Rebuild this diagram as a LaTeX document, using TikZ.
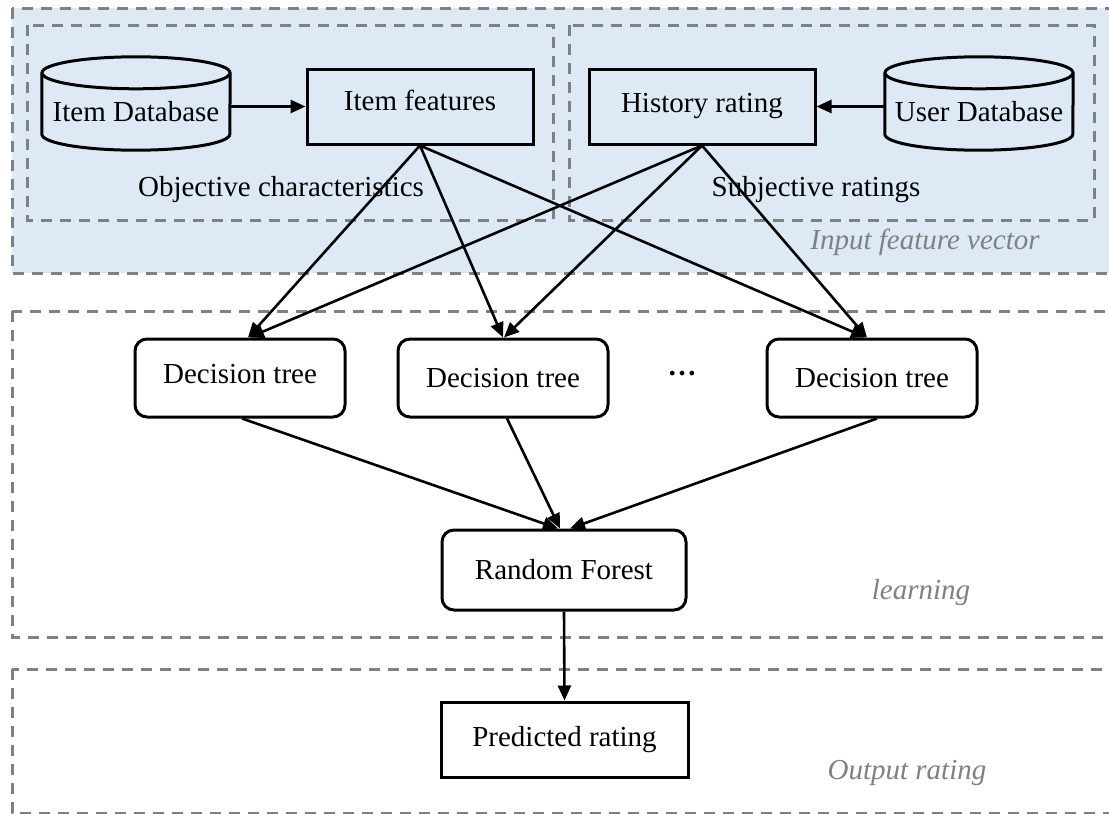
\documentclass[tikz,border=0pt]{standalone}
\usepackage{fontspec}
\setmainfont{Liberation Serif}
\usetikzlibrary{arrows.meta,calc}
\definecolor{inblue}{RGB}{221,234,246}
\definecolor{grp}{RGB}{128,128,128}
\begin{document}
\begin{tikzpicture}[x=1pt,y=-1pt,
  txt/.style={font=\fontsize{29}{34}\selectfont},
  box/.style={txt, draw, line width=3pt, minimum width=226pt, minimum height=75pt, inner sep=0pt},
  rbox/.style={box, rounded corners=12pt, minimum width=210pt, minimum height=78pt},
  db/.style={txt, minimum width=188pt, minimum height=77pt, inner sep=0pt},
  dbline/.style={line width=3pt},
  conn/.style={line width=2.6pt, -{Triangle[length=15pt,width=13pt]}},
  grpbox/.style={draw=grp, line width=3pt, dash pattern=on 11pt off 8pt},
  glabel/.style={txt, text=grp, font=\fontsize{29}{34}\selectfont\itshape}]
\useasboundingbox (0,0) rectangle (1109,814);

% group boxes
\path[grpbox, fill=inblue] (12,8) rectangle (1116,273);
\path[grpbox] (27,25) rectangle (553,220);
\path[grpbox] (569,25) rectangle (1094,220);
\path[grpbox] (12,311) rectangle (1116,637);
\path[grpbox] (12,669) rectangle (1116,813);

% group labels
\node[txt] (objl) at (281,190) {Objective characteristics};
\node[txt] (subl) at (816,190) {Subjective ratings};
\node[glabel] (inl) at (925,242) {Input feature vector};
\node[glabel] (learnl) at (921,593) {learning};
\node[glabel] (outl) at (907,773) {Output rating};

% databases
\node[db] (idb) at (136,111.5) {Item Database};
\draw[dbline] (idb.north) ellipse[x radius=94pt, y radius=16pt];
\draw[dbline] (idb.north west) -- ($(idb.south west)+(0,-16)$) arc[start angle=180, end angle=360, x radius=94pt, y radius=16pt] -- (idb.north east);

\node[db] (udb) at (979,111.5) {User Database};
\draw[dbline] (udb.north) ellipse[x radius=94pt, y radius=16pt];
\draw[dbline] (udb.north west) -- ($(udb.south west)+(0,-16)$) arc[start angle=180, end angle=360, x radius=94pt, y radius=16pt] -- (udb.north east);

% feature boxes
\node[box, text depth=12pt] (ifeat) at (420,106.5) {Item features};
\node[box] (hist) at (702,106.5) {History rating};

% decision trees
\node[rbox, text depth=9pt] (dt1) at (240,378) {Decision tree};
\node[rbox] (dt2) at (503,378) {Decision tree};
\node[txt] (dots) at (682,378) {\textbf{\raisebox{9pt}{…}}};
\node[rbox] (dt3) at (872,378) {Decision tree};

\node[rbox, minimum width=244pt, minimum height=80pt] (rf) at (564,570) {Random Forest};
\node[box, minimum width=247pt, minimum height=75pt] (pred) at (564.5,739.5) {Predicted rating};

% connectors
\draw[conn] (idb.east |- ifeat.west) -- (ifeat.west);
\draw[conn] (udb.west |- hist.east) -- (hist.east);

\draw[conn] (ifeat.south) -- ([xshift=8pt]dt1.north);
\draw[conn] (ifeat.south) -- (dt2.north);
\draw[conn] (ifeat.south) -- ([xshift=-6pt]dt3.north);
\draw[conn] (hist.south) -- ([xshift=9pt]dt1.north);
\draw[conn] (hist.south) -- ([xshift=1pt]dt2.north);
\draw[conn] (hist.south) -- ([xshift=-5pt]dt3.north);

\draw[conn] ([xshift=2pt]dt1.south) -- ([xshift=-6pt]rf.north);
\draw[conn] ([xshift=4pt]dt2.south) -- ([xshift=-4pt]rf.north);
\draw[conn] ([xshift=5pt]dt3.south) -- ([xshift=6pt]rf.north);
\draw[conn] (rf.south) -- (pred.north);
\end{tikzpicture}
\end{document}
